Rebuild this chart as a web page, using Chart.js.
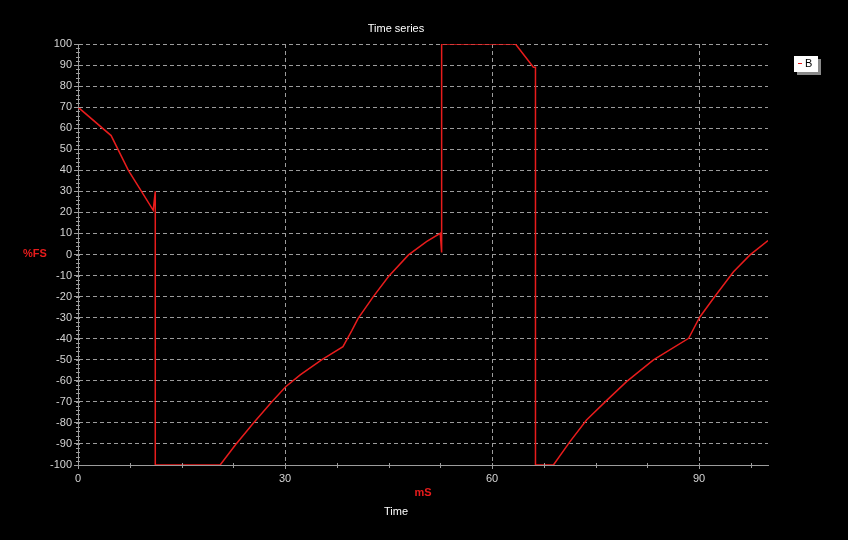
<!DOCTYPE html>
<html>
<head>
<meta charset="utf-8">
<title>Time series</title>
<script src="https://cdn.jsdelivr.net/npm/chart.js@4"></script>
<style>
    html, body { margin: 0; padding: 0; background: #000; }
    canvas { display: block; }
</style>
</head>
<body>
<canvas id="chartArea" width="848" height="540"></canvas>
<script>
'use strict'

// values
const seriesName = 'B';
const timeMs = [0, 4.8, 7.3, 9.2, 10.9, 11.2, 11.2, 20.6, 22.8, 25.4, 28.1, 30.1, 32.2, 35.3, 38.4, 39.7,
    40.6, 42.8, 45, 47.9, 50.5, 52.5, 52.7, 52.7, 63.4, 66, 66.3, 66.3, 68.9, 71.3, 73.7, 76.4, 79.5,
    83.4, 88.5, 90.1, 92.1, 95, 97.4, 100];
const percentFS = [70, 56.5, 40, 30, 21, 30, -100, -100, -90.5, -80.2, -70, -62.8, -57.2, -50.1, -43.8, -36,
    -30.3, -20, -10.5, -0.2, 6.1, 10.1, 1, 100, 100, 89, 89, -100, -100, -88.9, -78.6, -70, -60.4,
    -50.1, -39.8, -29.8, -20.8, -8.2, -0.2, 6.6];
const xTicks = [0, 30, 60, 90];
const yTicks = [-100, -90, -80, -70, -60, -50, -40, -30, -20, -10, 0, 10, 20, 30, 40, 50, 60, 70, 80, 90, 100];
const xMinorStep = 7.5;
const yMinorStep = 2;

const gridGrey = '#9c9c9c';
const labelGrey = '#d4d4d4';
const traceRed = 'rgb(232,28,28)';

let points = [];
for (let i = 0; i < timeMs.length; i++) {
    points.push({x: timeMs[i], y: percentFS[i]});
}

// minor ticks, captions and the little legend box
const decorations = {
    id: 'decorations',
    afterDraw(chart) {
        let ctx = chart.ctx;
        let xs = chart.scales.x;
        let ys = chart.scales.y;
        let area = chart.chartArea;

        ctx.save();
        ctx.strokeStyle = gridGrey;
        ctx.lineWidth = 1;
        ctx.beginPath();
        for (let v = ys.min; v <= ys.max; v += yMinorStep) {
            let py = Math.round(ys.getPixelForValue(v)) + 0.5;
            ctx.moveTo(area.left - 2, py);
            ctx.lineTo(area.left + 2, py);
        }
        for (let v = xs.min; v <= xs.max; v += xMinorStep) {
            let px = Math.round(xs.getPixelForValue(v)) + 0.5;
            ctx.moveTo(px, area.bottom - 2);
            ctx.lineTo(px, area.bottom + 3);
        }
        ctx.stroke();

        ctx.textAlign = 'center';
        ctx.textBaseline = 'middle';
        ctx.fillStyle = '#ffffff';
        ctx.font = '11px "Liberation Sans", Arial, sans-serif';
        ctx.fillText('Time series', 396, 29);
        ctx.fillText('Time', 396, 512);

        ctx.fillStyle = traceRed;
        ctx.font = 'bold 11px "Liberation Sans", Arial, sans-serif';
        ctx.fillText('mS', (area.left + area.right) / 2, 493);
        ctx.fillText('%FS', 35, 254);

        // legend
        ctx.fillStyle = '#8a8a8a';
        ctx.fillRect(797, 59, 24, 16);
        ctx.fillStyle = '#ffffff';
        ctx.fillRect(794, 56, 24, 16);
        ctx.fillStyle = traceRed;
        ctx.fillRect(798, 63, 4, 1);
        ctx.fillStyle = '#000000';
        ctx.font = '11px "Liberation Sans", Arial, sans-serif';
        ctx.textAlign = 'left';
        ctx.fillText(chart.data.datasets[0].label, 805, 64);
        ctx.restore();
    }
};

let ctx = document.getElementById('chartArea').getContext('2d');
let chart = new Chart(ctx, {
    type: 'line',
    data: {
        datasets: [{
            label: seriesName,
            data: points,
            borderColor: traceRed,
            borderWidth: 1.5,
            pointRadius: 0,
            tension: 0,
            fill: false
        }]
    },
    options: {
        responsive: false,
        animation: false,
        layout: {
            padding: {top: 44, right: 80, bottom: 0, left: 0}
        },
        plugins: {
            legend: {display: false},
            title: {display: false},
            tooltip: {enabled: false}
        },
        scales: {
            x: {
                type: 'linear',
                min: 0,
                max: 100,
                afterBuildTicks: (s) => { s.ticks = xTicks.map(v => ({value: v})); },
                afterFit: (s) => { s.height = 75; },
                grid: {color: gridGrey, tickLength: 4, tickColor: gridGrey},
                border: {color: gridGrey, dash: [4, 3]},
                ticks: {
                    color: labelGrey,
                    padding: 3,
                    maxRotation: 0,
                    autoSkip: false,
                    font: {family: '"Liberation Sans", Arial, sans-serif', size: 11}
                }
            },
            y: {
                min: -100,
                max: 100,
                afterBuildTicks: (s) => { s.ticks = yTicks.map(v => ({value: v})); },
                afterFit: (s) => { s.width = 78; },
                grid: {color: gridGrey, tickLength: 4, tickColor: gridGrey},
                border: {color: gridGrey, dash: [4, 3]},
                ticks: {
                    color: labelGrey,
                    padding: 2,
                    autoSkip: false,
                    font: {family: '"Liberation Sans", Arial, sans-serif', size: 11}
                }
            }
        }
    },
    plugins: [decorations]
});
</script>
</body>
</html>
